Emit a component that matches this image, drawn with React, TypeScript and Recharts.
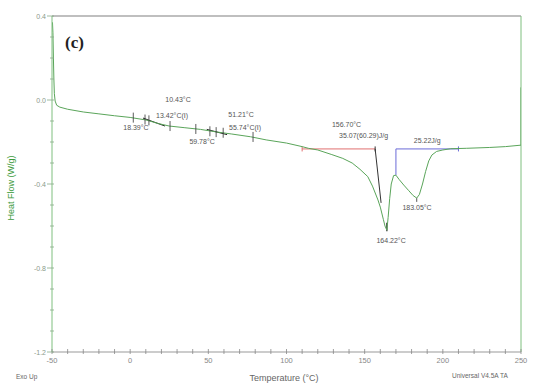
import { ComposedChart, Line, Scatter, XAxis, YAxis, ReferenceLine, ReferenceDot } from 'recharts'

const temps = [
  -49.7, -49.4, -49.1, -48.8, -48.5, -48.0, -47.0, -45, -40, -30, -20, -10, 0, 10, 18, 25, 35, 45, 55, 65, 77, 87,
  100, 110, 114, 120, 129, 136, 142, 147, 152, 155, 158.5, 160, 162, 163, 164.2, 165, 166, 167, 168.5, 170, 172,
  175, 178, 181, 183.3, 185, 187, 189, 191, 193, 196, 200, 205, 215, 230, 240, 250, 250,
]
const heatFlow = [
  0.37, 0.32, 0.2, 0.1, 0.03, -0.005, -0.025, -0.034, -0.044, -0.057, -0.066, -0.075, -0.083, -0.095, -0.112,
  -0.124, -0.132, -0.14, -0.152, -0.162, -0.175, -0.19, -0.205, -0.222, -0.23, -0.238, -0.26, -0.278, -0.3,
  -0.33, -0.365, -0.41, -0.476, -0.51, -0.57, -0.6, -0.62, -0.56, -0.47, -0.4, -0.36, -0.358, -0.378, -0.405,
  -0.43, -0.455, -0.467, -0.45, -0.4, -0.34, -0.29, -0.262, -0.245, -0.238, -0.232, -0.23, -0.226, -0.222, -0.215,
  0.06,
]

const stepTemps = [2, 9.5, 12, 25.5, 42, 51, 55, 59.5, 78.6]
const stepFlows = [-0.084, -0.093, -0.097, -0.124, -0.138, -0.149, -0.153, -0.156, -0.176]

const noteTexts = ['10.43°C', '13.42°C(I)', '18.39°C', '51.21°C', '55.74°C(I)', '59.78°C', '156.70°C', '35.07(60.29)J/g', '25.22J/g', '183.05°C', '164.22°C']
const noteTemps = [30.6, 26.8, 3.7, 70.9, 73.5, 46, 138.4, 149.3, 190, 183.5, 166.9]
const noteFlows = [0.0, -0.076, -0.133, -0.071, -0.133, -0.2, -0.119, -0.167, -0.195, -0.514, -0.667]

const xTicks = [-50, -40, -30, -20, -10, 0, 10, 20, 30, 40, 50, 60, 70, 80, 90, 100, 110, 120, 130, 140, 150, 160, 170, 180, 190, 200, 210, 220, 230, 240, 250]
const yTicks = [-1.2, -1.1, -1.0, -0.9, -0.8, -0.7, -0.6, -0.5, -0.4, -0.3, -0.2, -0.1, 0, 0.1, 0.2, 0.3, 0.4]
const yMajor = [-1.2, -0.8, -0.4, 0, 0.4]

const curve = temps.map((t, i) => ({ t, hf: heatFlow[i] }))
const steps = stepTemps.map((t, i) => ({ t, hf: stepFlows[i] }))
const font = 'Liberation Sans, Arial, sans-serif'
const green = '#5aa55a'

const XTick = ({ x, y, payload }: any) => {
  const major = payload.value % 50 === 0
  return (
    <g>
      <line x1={x} x2={x} y1={y - 3} y2={y + 2} stroke="#888" strokeWidth={0.8} />
      {major && (
        <text x={x} y={y + 11} textAnchor="middle" fontSize={7.5} fill="#888" fontFamily={font}>
          {payload.value}
        </text>
      )}
    </g>
  )
}

const YTick = ({ x, y, payload }: any) => {
  const major = yMajor.some((v) => Math.abs(v - payload.value) < 1e-6)
  return (
    <g>
      <line x1={major ? x - 5 : x - 2} x2={x + 2} y1={y} y2={y} stroke="#8a8" strokeWidth={0.8} />
      {major && (
        <text x={x - 6} y={y + 2.5} textAnchor="end" fontSize={7} fill="#8a9a8a" fontFamily={font}>
          {payload.value.toFixed(1)}
        </text>
      )}
    </g>
  )
}

const StepMark = (props: any) => (
  <line x1={props.cx} x2={props.cx} y1={props.cy - 5} y2={props.cy + 5} stroke="#333" strokeWidth={0.8} />
)

export default function App() {
  return (
    <div style={{ position: 'absolute', left: 0, top: 0, width: 535, height: 385, background: '#fff' }}>
      <ComposedChart width={535} height={385} margin={{ top: 16, right: 14, bottom: 13, left: 0 }}>
        <XAxis
          type="number"
          dataKey="t"
          domain={[-50, 250]}
          ticks={xTicks}
          interval={0}
          allowDataOverflow
          stroke="#999"
          tickLine={false}
          tickSize={0}
          tickMargin={0}
          height={20}
          tick={<XTick />}
        />
        <YAxis
          type="number"
          dataKey="hf"
          domain={[-1.2, 0.4]}
          ticks={yTicks}
          interval={0}
          allowDataOverflow
          stroke="#7fbf7f"
          tickLine={false}
          tickSize={0}
          tickMargin={0}
          width={52}
          tick={<YTick />}
        />
        <ReferenceLine y={0.4} stroke="#aaa" strokeWidth={1.5} />
        <ReferenceLine x={250} stroke="#7fbf7f" strokeWidth={1} />
        <ReferenceLine segment={[{ x: 110, y: -0.233 }, { x: 156.7, y: -0.233 }]} stroke="#e07070" strokeWidth={1} />
        <ReferenceLine segment={[{ x: 110, y: -0.221 }, { x: 110, y: -0.245 }]} stroke="#e07070" strokeWidth={1} />
        <ReferenceLine segment={[{ x: 170, y: -0.233 }, { x: 210, y: -0.233 }]} stroke="#6a6ad8" strokeWidth={1} />
        <ReferenceLine segment={[{ x: 210, y: -0.221 }, { x: 210, y: -0.245 }]} stroke="#6a6ad8" strokeWidth={1} />
        <ReferenceLine segment={[{ x: 170, y: -0.233 }, { x: 170, y: -0.358 }]} stroke="#6a6ad8" strokeWidth={1} />
        <ReferenceLine segment={[{ x: 156.7, y: -0.221 }, { x: 156.7, y: -0.245 }]} stroke="#333" strokeWidth={1} />
        <ReferenceLine segment={[{ x: 156.7, y: -0.233 }, { x: 160.5, y: -0.49 }]} stroke="#333" strokeWidth={1} />
        <ReferenceLine segment={[{ x: 8.2, y: -0.086 }, { x: 22.3, y: -0.124 }]} stroke="#222" strokeWidth={1} />
        <ReferenceLine segment={[{ x: 49, y: -0.14 }, { x: 62, y: -0.165 }]} stroke="#222" strokeWidth={1} />
        <ReferenceLine segment={[{ x: 164.2, y: -0.585 }, { x: 164.2, y: -0.625 }]} stroke="#222" strokeWidth={1.2} />
        <ReferenceLine segment={[{ x: 183.3, y: -0.467 }, { x: 183.3, y: -0.485 }]} stroke="#555" strokeWidth={1} />
        <Line
          data={curve}
          dataKey="hf"
          type="linear"
          stroke={green}
          strokeWidth={1}
          dot={false}
          isAnimationActive={false}
        />
        <Scatter data={steps} dataKey="hf" shape={<StepMark />} isAnimationActive={false} />
        {noteTexts.map((text, i) => (
          <ReferenceDot
            key={text}
            x={noteTemps[i]}
            y={noteFlows[i]}
            r={0}
            fill="none"
            stroke="none"
            label={{ value: text, position: 'center', fontSize: 7, fill: '#555', fontFamily: font }}
          />
        ))}
      </ComposedChart>
      <svg width={535} height={385} style={{ position: 'absolute', left: 0, top: 0, pointerEvents: 'none' }}>
        <text x={65} y={48} fontSize={17} fontWeight="bold" fontFamily="Liberation Serif, serif" fill="#222">
          (c)
        </text>
        <text
          x={12}
          y={188}
          transform="rotate(-90 12 188)"
          textAnchor="middle"
          dominantBaseline="middle"
          fontSize={9}
          fill="#3c9a3c"
          fontFamily={font}
        >
          Heat Flow (W/g)
        </text>
        <text x={284} y={381} textAnchor="middle" fontSize={9} fill="#666" fontFamily={font}>
          Temperature (°C)
        </text>
        <text x={16} y={379} fontSize={6.5} fill="#666" fontFamily={font}>
          Exo Up
        </text>
        <text x={452} y={378} fontSize={6.5} fill="#666" fontFamily={font}>
          Universal V4.5A TA
        </text>
      </svg>
    </div>
  )
}
